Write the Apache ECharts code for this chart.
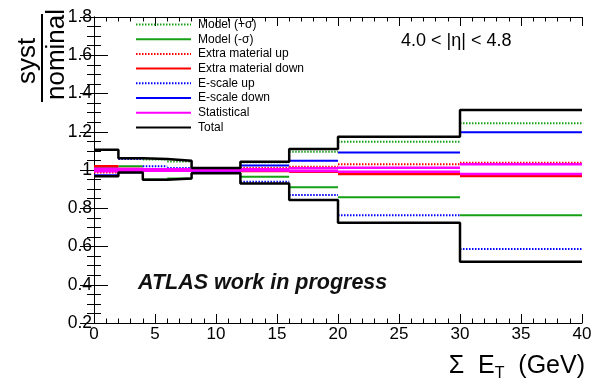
<!DOCTYPE html>
<html>
<head>
<meta charset="utf-8">
<script src="https://cdn.jsdelivr.net/npm/echarts@6/dist/echarts.min.js"></script>
<style>html,body{margin:0;padding:0;background:#fff;}#c{width:595px;height:382px;}</style>
</head>
<body>
<div id="c"></div>
<script>
// ---- data ----
const binEdges = [0, 2, 4, 6, 8, 12, 16, 20, 30, 40];
const modelUp      = [1.005, 0.995, 1.055, 1.045, 1.006, 1.040, 1.096, 1.148, 1.244];
const modelDown    = [1.012, 1.020, 0.950, 0.956, 0.990, 0.965, 0.910, 0.857, 0.763];
const extraUp      = [0.987, 0.995, 1.000, 1.002, 1.003, 1.010, 1.017, 1.030, 1.038];
const extraDown    = [1.020, 1.005, 1.000, 0.998, 0.998, 0.995, 0.991, 0.979, 0.969];
const escaleUp     = [1.104, 1.058, 1.020, 1.010, 0.994, 0.938, 0.869, 0.763, 0.587];
const escaleDown   = [0.973, 0.988, 1.000, 0.998, 0.990, 1.024, 1.049, 1.092, 1.197];
const statUp       = [1.006, 1.005, 1.004, 1.004, 1.003, 1.004, 1.009, 1.012, 1.030];
const statDown     = [0.994, 0.995, 0.996, 0.996, 0.997, 0.997, 0.995, 0.991, 0.979];
const totalUp      = [1.106, 1.062, 1.058, 1.049, 1.011, 1.043, 1.110, 1.174, 1.314];
const totalDown    = [0.967, 0.987, 0.949, 0.955, 0.983, 0.930, 0.843, 0.724, 0.520];
const legendNames  = ['Model (+σ)', 'Model (-σ)', 'Extra material up', 'Extra material down',
                      'E-scale up', 'E-scale down', 'Statistical', 'Total'];
const xTicks = [0, 5, 10, 15, 20, 25, 30, 35, 40];
const yTicks = [0.2, 0.4, 0.6, 0.8, 1.0, 1.2, 1.4, 1.6, 1.8];

// ---- helpers ----
function segs(vals) {
  const out = [];
  vals.forEach((v, i) => {
    out.push([binEdges[i], v], [binEdges[i + 1], v]);
    if (i < vals.length - 1) out.push(['-', '-']);
  });
  return out;
}
function steps(vals) {
  const out = [];
  vals.forEach((v, i) => { out.push([binEdges[i], v], [binEdges[i + 1], v]); });
  return out;
}
const FONT = 'Liberation Sans, Arial, Helvetica, sans-serif';
const GREEN = '#16a016', RED = '#ff0000', BLUE = '#0000ff', MAG = '#ff00ff';
function mk(name, vals, color, dotted, width, stepped) {
  return {
    name: name, type: 'line', data: stepped ? steps(vals) : segs(vals),
    symbol: 'none', connectNulls: false, silent: true,
    lineStyle: { color: color, width: width, type: dotted ? [1.5, 1.5] : 'solid', cap: 'butt' },
    itemStyle: { color: color }
  };
}
const series = [
  mk(legendNames[0], modelUp, GREEN, true, 2),
  mk(legendNames[1], modelDown, GREEN, false, 2),
  mk(legendNames[2], extraUp, RED, true, 2),
  mk(legendNames[3], extraDown, RED, false, 2.5),
  mk(legendNames[4], escaleUp, BLUE, true, 2),
  mk(legendNames[5], escaleDown, BLUE, false, 2),
  mk(legendNames[6], statUp, MAG, false, 2.5),
  mk(legendNames[6], statDown, MAG, false, 2.5),
  mk(legendNames[7], totalUp, '#000', false, 2.5, true),
  mk(legendNames[7], totalDown, '#000', false, 2.5, true)
];

const axisLine = { show: true, lineStyle: { color: '#000', width: 1 } };
const chart = echarts.init(document.getElementById('c'), null, { renderer: 'canvas' });
chart.setOption({
  animation: false,
  backgroundColor: '#fff',
  grid: { left: 94, right: 13, top: 17, bottom: 59, containLabel: false },
  xAxis: [
    { type: 'value', min: xTicks[0], max: xTicks[xTicks.length - 1], interval: 5, position: 'bottom',
      axisLine: axisLine, splitLine: { show: false },
      axisTick: { inside: true, length: 9, lineStyle: { color: '#000' } },
      minorTick: { show: true, splitNumber: 5, length: 4.5, lineStyle: { color: '#000' } },
      axisLabel: { fontFamily: FONT, fontSize: 17, color: '#000', margin: 3 } },
    { type: 'value', min: xTicks[0], max: xTicks[xTicks.length - 1], interval: 5, position: 'top',
      axisLine: axisLine, splitLine: { show: false },
      axisTick: { inside: true, length: 9, lineStyle: { color: '#000' } },
      minorTick: { show: true, splitNumber: 5, length: 4.5, lineStyle: { color: '#000' } },
      axisLabel: { show: false } }
  ],
  yAxis: [
    { type: 'value', min: yTicks[0], max: yTicks[yTicks.length - 1], interval: 0.2, position: 'left',
      axisLine: axisLine, splitLine: { show: false },
      axisTick: { inside: true, length: 14, lineStyle: { color: '#000' } },
      minorTick: { show: true, splitNumber: 4, length: 7, lineStyle: { color: '#000' } },
      axisLabel: { fontFamily: FONT, fontSize: 17.5, color: '#000', margin: 2,
                   formatter: v => String(+v.toFixed(1)) } },
    { type: 'value', min: yTicks[0], max: yTicks[yTicks.length - 1], interval: 0.2, position: 'right',
      axisLine: axisLine, splitLine: { show: false },
      axisTick: { inside: true, length: 14, lineStyle: { color: '#000' } },
      minorTick: { show: true, splitNumber: 4, length: 7, lineStyle: { color: '#000' } },
      axisLabel: { show: false } }
  ],
  legend: {
    orient: 'vertical', left: 130, top: 12.5, itemWidth: 55, itemHeight: 14, itemGap: 0.7,
    selectedMode: false, data: legendNames,
    itemStyle: { opacity: 0 },
    textStyle: { fontFamily: FONT, fontSize: 12, color: '#000', lineHeight: 14, padding: [0, 0, 0, 2] }
  },
  series: series,
  graphic: [
    { type: 'group', x: 42, y: 58, rotation: Math.PI / 2, silent: true,
      children: [
        { type: 'line', shape: { x1: -44, y1: 0, x2: 44, y2: 0 }, style: { stroke: '#000', lineWidth: 2 } },
        { type: 'text', x: -3, y: -14, style: { text: 'syst', fontFamily: FONT, fontSize: 26, fill: '#000', align: 'center', verticalAlign: 'middle' } },
        { type: 'text', x: 3.5, y: 15, style: { text: 'nominal', fontFamily: FONT, fontSize: 26, fill: '#000', align: 'center', verticalAlign: 'middle' } }
      ] },
    { type: 'text', x: 585, y: 366, silent: true,
      style: { text: 'Σ  E{s|T}  (GeV)', fontFamily: FONT, fontSize: 25, fill: '#000', align: 'right', verticalAlign: 'middle',
               rich: { s: { fontFamily: FONT, fontSize: 16, fill: '#000', padding: [16, 0, 0, 0] } } } },
    { type: 'text', x: 401, y: 41, silent: true,
      style: { text: '4.0 < |η| < 4.8', fontFamily: FONT, fontSize: 18, fill: '#000', align: 'left', verticalAlign: 'middle' } },
    { type: 'text', x: 138, y: 283, silent: true,
      style: { text: 'ATLAS work in progress', fontFamily: FONT, fontSize: 21.5, fontWeight: 'bold', fontStyle: 'italic', fill: '#111', align: 'left', verticalAlign: 'middle' } }
  ]
});
</script>
</body>
</html>
